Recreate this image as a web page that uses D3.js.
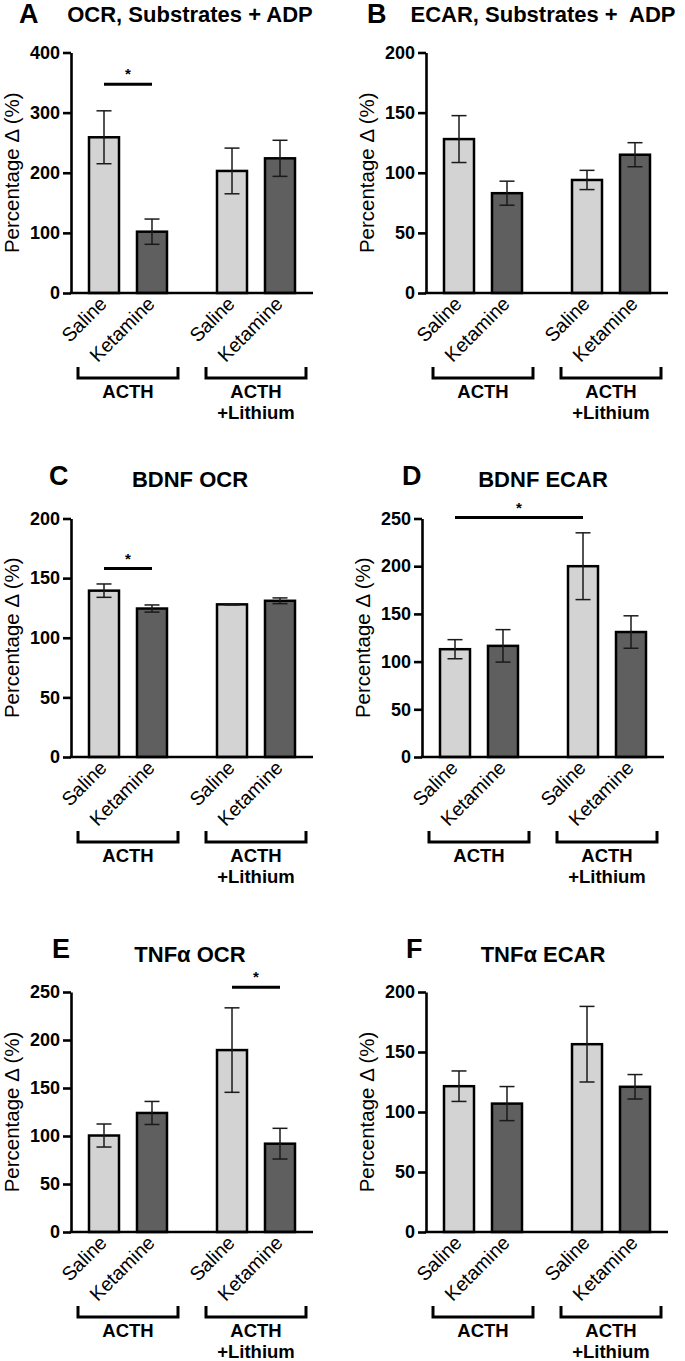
<!DOCTYPE html>
<html>
<head>
<meta charset="utf-8">
<title>Percentage change panels</title>
<script src="https://d3js.org/d3.v7.min.js"></script>
<style>
  body { margin: 0; background: #fff; }
  text { font-family: "Liberation Sans", Arial, sans-serif; fill: #000; }
</style>
</head>
<body>
<script>
// ---- data ----
const categories = ["Saline", "Ketamine", "Saline", "Ketamine"];
const groupLabels = [["ACTH"], ["ACTH", "+Lithium"]];
const panelLetters = ["A", "B", "C", "D", "E", "F"];
const panelTitles = ["OCR, Substrates + ADP", "ECAR, Substrates +  ADP", "BDNF OCR", "BDNF ECAR", "TNFα OCR", "TNFα ECAR"];
const yMax = [400, 200, 200, 250, 250, 200];
const yStep = [100, 50, 50, 50, 50, 50];

// mean and SEM, bar order: Saline/ACTH, Ketamine/ACTH, Saline/ACTH+Li, Ketamine/ACTH+Li
const ocrSubMean = [259, 102, 203, 224];
const ocrSubSem = [44, 21, 38, 30];
const ecarSubMean = [128, 83, 94, 115];
const ecarSubSem = [19.5, 10, 8, 10];
const bdnfOcrMean = [139.5, 124.5, 128, 131];
const bdnfOcrSem = [5.6, 3, 0.5, 2.4];
const bdnfEcarMean = [113, 116.5, 200, 131];
const bdnfEcarSem = [10, 17, 35, 17];
const tnfOcrMean = [100.5, 124, 189.5, 92];
const tnfOcrSem = [12, 12, 44, 16];
const tnfEcarMean = [121.5, 107, 156.5, 121];
const tnfEcarSem = [12.7, 14.2, 31.5, 10.2];

const means = [ocrSubMean, ecarSubMean, bdnfOcrMean, bdnfEcarMean, tnfOcrMean, tnfEcarMean];
const sems = [ocrSubSem, ecarSubSem, bdnfOcrSem, bdnfEcarSem, tnfOcrSem, tnfEcarSem];

// significance: [from bar, to bar, height in data units]
const sigPairs = [[0, 1, 347], null, [0, 1, 158], [0, 2, 251], [2, 3, 255], null];

// ---- layout ----
const W = 685, H = 1361;
const slots = [0, 1, 2.667, 3.667];
const panelX = [71, 426, 71, 422, 71, 426];
const rowTop = [52.5, 518.5, 992];
const rowBottom = [293, 757, 1232];
const titleCx = [190, 543];
const letterX = [19, 367, 49, 402, 52, 406];
const letterY = [23, 23, 485, 485, 958, 958];
const titleY = [22, 22, 487, 487, 962, 962];
const axisLen = 242;
const barW = 30;
const colors = ["#d3d3d3", "#5f5f5f", "#d3d3d3", "#5f5f5f"];

const svg = d3.select("body").append("svg")
    .attr("width", W)
    .attr("height", H);

const x = d3.scaleLinear().domain([0, 3.667]).range([33, 209]);

panelLetters.forEach(function (letter, i) {
    const row = Math.floor(i / 2), col = i % 2;
    const top = rowTop[row], bottom = rowBottom[row];

    // letter + title
    svg.append("text")
        .attr("x", letterX[i])
        .attr("y", letterY[i])
        .style("font-size", "27px")
        .style("font-weight", "bold")
        .text(letter);

    svg.append("text")
        .attr("x", titleCx[col])
        .attr("y", titleY[i])
        .attr("text-anchor", "middle")
        .style("font-size", "22px")
        .style("font-weight", "bold")
        .style("white-space", "pre")
        .text(panelTitles[i]);

    const g = svg.append("g")
        .attr("transform", "translate(" + panelX[i] + ",0)");

    const y = d3.scaleLinear()
        .domain([0, yMax[i]])
        .range([bottom, top]);

    const yAxis = d3.axisLeft(y)
        .tickValues(d3.range(0, yMax[i] + 1, yStep[i]))
        .tickSize(8)
        .tickSizeOuter(0)
        .tickPadding(3);

    const ya = g.append("g").call(yAxis);
    ya.select(".domain").attr("stroke-width", 2.6).attr("stroke", "#000");
    ya.selectAll(".tick line").attr("stroke-width", 2.6).attr("stroke", "#000");
    ya.selectAll(".tick text")
        .attr("fill", "#000")
        .style("font-size", "18px")
        .style("font-weight", "bold")
        .style("font-family", "'Liberation Sans', Arial, sans-serif");

    // y label
    g.append("text")
        .attr("transform", "translate(-60," + (top + bottom) / 2 + ") rotate(-90)")
        .attr("text-anchor", "middle")
        .attr("dominant-baseline", "central")
        .style("font-size", "20.5px")
        .text("Percentage Δ (%)");

    const data = means[i].map(function (m, j) {
        return { m: m, s: sems[i][j], slot: slots[j], c: colors[j], label: categories[j] };
    });

    // bars
    g.selectAll("rect.bar")
        .data(data)
        .enter()
        .append("rect")
        .attr("class", "bar")
        .attr("x", d => x(d.slot) - barW / 2)
        .attr("y", d => y(d.m))
        .attr("width", barW)
        .attr("height", d => y(0) - y(d.m))
        .attr("fill", d => d.c)
        .attr("stroke", "#000")
        .attr("stroke-width", 2.5);

    // error bars
    const eb = g.selectAll("g.err")
        .data(data)
        .enter()
        .append("g")
        .attr("class", "err")
        .attr("stroke", "#1a1a1a")
        .attr("stroke-width", 1.5);
    eb.append("line")
        .attr("x1", d => x(d.slot)).attr("x2", d => x(d.slot))
        .attr("y1", d => y(d.m + d.s)).attr("y2", d => y(d.m - d.s));
    eb.append("line")
        .attr("x1", d => x(d.slot) - 7.5).attr("x2", d => x(d.slot) + 7.5)
        .attr("y1", d => y(d.m + d.s)).attr("y2", d => y(d.m + d.s));
    eb.append("line")
        .attr("x1", d => x(d.slot) - 7.5).attr("x2", d => x(d.slot) + 7.5)
        .attr("y1", d => y(d.m - d.s)).attr("y2", d => y(d.m - d.s));

    // x axis line
    g.append("line")
        .attr("x1", -1.3).attr("x2", axisLen)
        .attr("y1", y(0)).attr("y2", y(0))
        .attr("stroke", "#000")
        .attr("stroke-width", 2.6);

    // category labels
    g.selectAll("text.cat")
        .data(data)
        .enter()
        .append("text")
        .attr("class", "cat")
        .attr("transform", d => "translate(" + (x(d.slot) + 4) + "," + (bottom + 12) + ") rotate(-45)")
        .attr("text-anchor", "end")
        .style("font-size", "19.5px")
        .text(d => d.label);

    // group brackets
    groupLabels.forEach(function (lines, k) {
        const gx0 = x(slots[2 * k]) - 26, gx1 = x(slots[2 * k + 1]) + 26;
        g.append("path")
            .attr("d", "M" + gx0 + "," + (bottom + 74) + "V" + (bottom + 85) + "H" + gx1 + "V" + (bottom + 74))
            .attr("fill", "none")
            .attr("stroke", "#000")
            .attr("stroke-width", 3);
        lines.forEach(function (t, n) {
            g.append("text")
                .attr("x", (gx0 + gx1) / 2)
                .attr("y", bottom + 105 + n * 21)
                .attr("text-anchor", "middle")
                .style("font-size", "18.5px")
                .style("font-weight", "bold")
                .text(t);
        });
    });

    // significance
    const sig = sigPairs[i];
    if (sig) {
        const sx0 = x(slots[sig[0]]), sx1 = x(slots[sig[1]]);
        g.append("line")
            .attr("x1", sx0).attr("x2", sx1)
            .attr("y1", y(sig[2])).attr("y2", y(sig[2]))
            .attr("stroke", "#000")
            .attr("stroke-width", 3);
        g.append("text")
            .attr("x", (sx0 + sx1) / 2)
            .attr("y", y(sig[2]) - 5)
            .attr("text-anchor", "middle")
            .style("font-size", "15px")
            .style("font-weight", "bold")
            .text("*");
    }
});
</script>
</body>
</html>
